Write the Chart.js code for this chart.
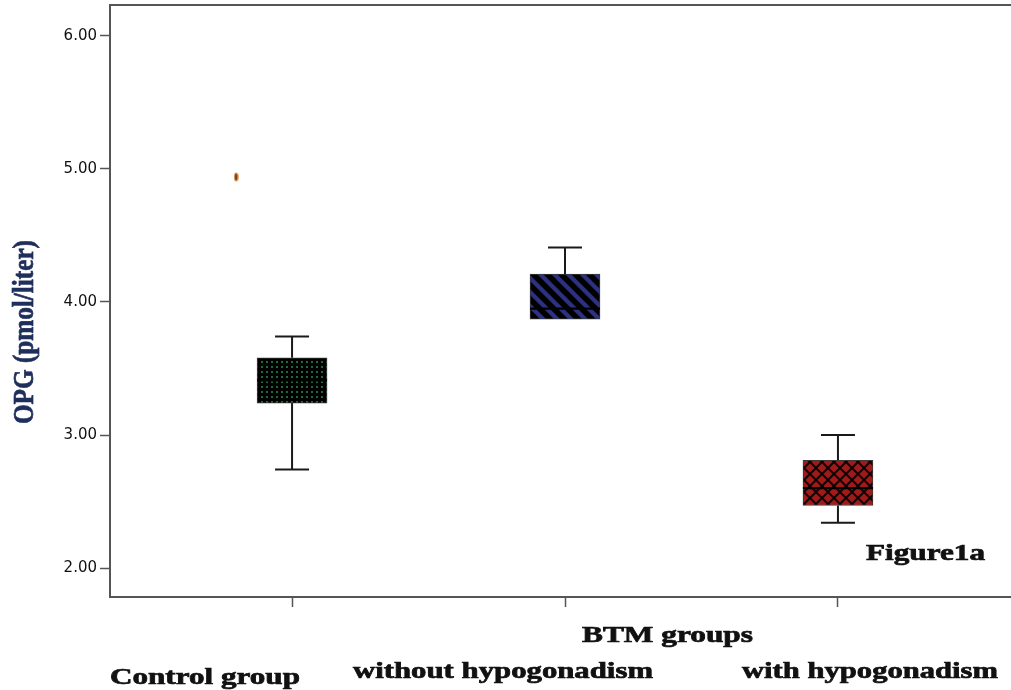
<!DOCTYPE html>
<html><head><meta charset="utf-8">
<script src="https://cdn.jsdelivr.net/npm/chart.js@4.4.0/dist/chart.umd.min.js"></script>
<style>html,body{margin:0;padding:0;background:#fff;overflow:hidden;}#wrap{width:1011px;height:690px;}#c{display:block;}</style>
</head><body><div id="wrap"><canvas id="c" width="1011" height="690"></canvas></div>
<script>
// ---- data ----
const categories = ['Control group', 'without hypogonadism', 'with hypogonadism'];
const positions = [0, 1, 2];
const q1 = [3.24, 3.87, 2.47];
const q3 = [3.58, 4.21, 2.81];
const medians = [3.41, 3.95, 2.60];
const whiskerLow = [2.74, 3.87, 2.34];
const whiskerHigh = [3.74, 4.41, 3.00];
const outlierX = [-0.205];
const outlierY = [4.94];
const yTicks = [2, 3, 4, 5, 6];
const xTitle = 'BTM groups';
const yTitle = 'OPG (pmol/liter)';
const figureLabel = 'Figure1a';

// ---- patterns ----
function tile(w, h, draw) {
  const c = document.createElement('canvas'); c.width = w; c.height = h;
  const g = c.getContext('2d'); draw(g, w, h);
  return document.getElementById('c').getContext('2d').createPattern(c, 'repeat');
}
const patDots = tile(5, 5, (g, w, h) => {
  g.fillStyle = '#000'; g.fillRect(0, 0, w, h);
  g.fillStyle = '#1f6a3c'; g.fillRect(1, 1, 2, 2);
});
const patStripes = tile(14, 14, (g, s) => {
  g.fillStyle = '#000'; g.fillRect(0, 0, s, s);
  g.strokeStyle = '#2c3180'; g.lineWidth = 4.2;
  for (const k of [-s, 0, s]) { g.beginPath(); g.moveTo(k - 2, -2); g.lineTo(k + s + 2, s + 2); g.stroke(); }
});
const patCross = tile(12, 12, (g, s) => {
  g.fillStyle = '#a11a1a'; g.fillRect(0, 0, s, s);
  g.strokeStyle = '#120404'; g.lineWidth = 2;
  for (const k of [-s, 0, s]) {
    g.beginPath(); g.moveTo(k - 2, -2); g.lineTo(k + s + 2, s + 2); g.stroke();
    g.beginPath(); g.moveTo(k - 2, s + 2); g.lineTo(k + s + 2, -2); g.stroke();
  }
});
const boxFills = [patDots, patStripes, patCross];

// outlier marker (small vertical ellipse)
const outImg = document.createElement('canvas'); outImg.width = 5; outImg.height = 10;
(function () {
  const g = outImg.getContext('2d');
  g.fillStyle = '#d9913a'; g.beginPath(); g.ellipse(2.5, 5, 2.2, 4.5, 0, 0, Math.PI * 2); g.fill();
  g.fillStyle = '#6b2f1c'; g.beginPath(); g.ellipse(2.5, 5, 1.1, 3.3, 0, 0, Math.PI * 2); g.fill();
})();

function stretchText(ctx, text, left, baseline, width, font, color) {
  ctx.save(); ctx.font = font; ctx.fillStyle = color; ctx.strokeStyle = color; ctx.lineWidth = 0.7;
  ctx.textAlign = 'left'; ctx.textBaseline = 'alphabetic';
  const w = ctx.measureText(text).width;
  ctx.translate(left, baseline); ctx.scale(width / w, 1);
  ctx.fillText(text, 0, 0); ctx.strokeText(text, 0, 0);
  ctx.restore();
}

const extras = {
  id: 'extras',
  beforeDatasetsDraw(chart) {
    const { ctx, scales: { x, y } } = chart;
    ctx.save(); ctx.strokeStyle = '#1a1a1a'; ctx.lineWidth = 2;
    positions.forEach((p, i) => {
      const px = x.getPixelForValue(p);
      const capHalf = 17;
      ctx.beginPath();
      ctx.moveTo(px, y.getPixelForValue(whiskerLow[i])); ctx.lineTo(px, y.getPixelForValue(q1[i]));
      ctx.moveTo(px, y.getPixelForValue(q3[i])); ctx.lineTo(px, y.getPixelForValue(whiskerHigh[i]));
      ctx.stroke();
      if (whiskerLow[i] < q1[i]) {
        const yy = y.getPixelForValue(whiskerLow[i]);
        ctx.beginPath(); ctx.moveTo(px - capHalf, yy); ctx.lineTo(px + capHalf, yy); ctx.stroke();
      }
      if (whiskerHigh[i] > q3[i]) {
        const yy = y.getPixelForValue(whiskerHigh[i]);
        ctx.beginPath(); ctx.moveTo(px - capHalf, yy); ctx.lineTo(px + capHalf, yy); ctx.stroke();
      }
    });
    ctx.restore();
  },
  afterDatasetsDraw(chart) {
    const { ctx, chartArea, scales: { x, y } } = chart;
    const meta = chart.getDatasetMeta(0);
    ctx.save(); ctx.strokeStyle = '#000'; ctx.lineWidth = 2.2;
    positions.forEach((p, i) => {
      const bar = meta.data[i];
      const half = bar.width / 2;
      const yy = y.getPixelForValue(medians[i]);
      ctx.beginPath(); ctx.moveTo(bar.x - half, yy); ctx.lineTo(bar.x + half, yy); ctx.stroke();
    });
    ctx.restore();
    // top frame line
    ctx.save(); ctx.strokeStyle = '#555'; ctx.lineWidth = 2;
    ctx.beginPath(); ctx.moveTo(chartArea.left, chartArea.top); ctx.lineTo(chart.width, chartArea.top); ctx.stroke();
    ctx.restore();
  },
  afterDraw(chart) {
    const ctx = chart.ctx;
    const f = 'bold 23px "Liberation Serif", "Times New Roman", serif';
    stretchText(ctx, xTitle, 582, 642, 171, f, '#111');
    stretchText(ctx, categories[0], 110, 684, 190, f, '#111');
    stretchText(ctx, categories[1], 353, 678, 300, f, '#111');
    stretchText(ctx, categories[2], 742, 678, 256, f, '#111');
    stretchText(ctx, figureLabel, 866, 560, 119, f, '#111');
    // y title
    ctx.save();
    ctx.font = 'bold 21px "Liberation Serif", "Times New Roman", serif';
    ctx.fillStyle = '#1f2f5c'; ctx.strokeStyle = '#1f2f5c'; ctx.lineWidth = 0.5;
    ctx.textAlign = 'center'; ctx.textBaseline = 'middle';
    const w = ctx.measureText(yTitle).width;
    ctx.translate(25, 332); ctx.scale(1.42, 184 / w); ctx.rotate(-Math.PI / 2);
    ctx.fillText(yTitle, 0, 0); ctx.strokeText(yTitle, 0, 0);
    ctx.restore();
  }
};

new Chart(document.getElementById('c'), {
  data: {
    datasets: [
      {
        type: 'bar',
        data: positions.map((p, i) => ({ x: p, y: [q1[i], q3[i]] })),
        backgroundColor: boxFills,
        borderColor: '#3a3a3a', borderWidth: 1, borderSkipped: false,
        barThickness: 70, order: 2
      },
      {
        type: 'scatter',
        data: outlierX.map((v, i) => ({ x: v, y: outlierY[i] })),
        pointStyle: outImg, pointRadius: 5, order: 1
      }
    ]
  },
  options: {
    responsive: false, animation: false, devicePixelRatio: 1,
    layout: { autoPadding: false, padding: { top: 5, right: 0, left: 0, bottom: 0 } },
    plugins: { legend: { display: false }, tooltip: { enabled: false } },
    scales: {
      x: {
        type: 'linear', min: -0.667, max: 2.634, offset: false,
        afterBuildTicks: s => { s.ticks = positions.map(v => ({ value: v })); },
        ticks: { callback: () => '', display: true },
        grid: { offset: false, drawOnChartArea: false, drawTicks: true, tickLength: 10, color: '#555', tickWidth: 1.5 },
        border: { display: true, color: '#555', width: 2 },
        afterFit: s => { s.height = 93; s.paddingLeft = 0; s.paddingRight = 0; }
      },
      y: {
        type: 'linear', min: 1.782, max: 6.233,
        afterBuildTicks: s => { s.ticks = yTicks.map(v => ({ value: v })); },
        ticks: { callback: v => Number(v).toFixed(2), color: '#111', font: { family: 'DejaVu Sans', size: 15 }, padding: 3 },
        grid: { drawOnChartArea: false, drawTicks: true, tickLength: 10, color: '#555', tickWidth: 1.5 },
        border: { display: true, color: '#555', width: 2 },
        afterFit: s => { s.width = 110; s.paddingTop = 0; s.paddingBottom = 0; }
      }
    }
  },
  plugins: [extras]
});
</script>
</body></html>
